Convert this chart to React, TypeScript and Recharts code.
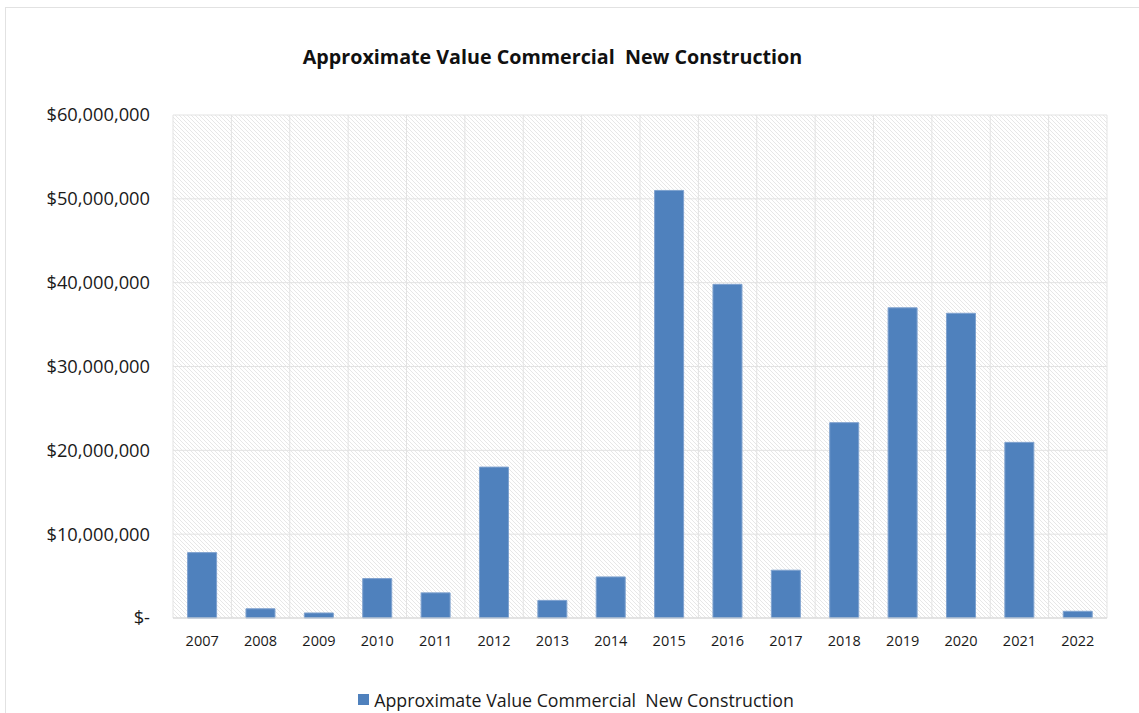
import React from 'react';
import { BarChart, Bar, XAxis, YAxis, CartesianGrid, Legend } from 'recharts';

const years = ['2007', '2008', '2009', '2010', '2011', '2012', '2013', '2014', '2015', '2016', '2017', '2018', '2019', '2020', '2021', '2022'];
const values = [7.8e6, 1.1e6, 0.6e6, 4.7e6, 3.0e6, 18.0e6, 2.1e6, 4.9e6, 51.0e6, 39.8e6, 5.7e6, 23.3e6, 37.0e6, 36.35e6, 20.95e6, 0.8e6];
const yTicks = [0, 10e6, 20e6, 30e6, 40e6, 50e6, 60e6];
const seriesName = 'Approximate Value Commercial  New Construction';
const titleText = 'Approximate Value Commercial  New Construction';

const data = years.map((y, i) => ({ year: y, value: values[i] }));

const FONT = '"Open Sans", "Noto Sans", sans-serif';
const BLUE = '#4F81BD';

const fmt = (v: number) => (v === 0 ? '$-' : '$' + v.toLocaleString('en-US'));

const LegendContent = () => (
  <div style={{ height: 65, paddingTop: 40, boxSizing: 'border-box', textAlign: 'center', fontFamily: FONT, fontSize: 17.8, color: '#1a1a1a', lineHeight: '20px', whiteSpace: 'pre', paddingLeft: 45 }}>
    <span style={{ display: 'inline-block', width: 11, height: 11, background: BLUE, marginRight: 5, verticalAlign: 'middle', position: 'relative', top: -1 }} />
    <span style={{ verticalAlign: 'middle' }}>{seriesName}</span>
  </div>
);

export default function App() {
  return (
    <div style={{ position: 'absolute', left: 0, top: 0, width: 1139, height: 713, overflow: 'hidden', background: '#fff', fontFamily: FONT }}>
      <svg width={0} height={0} style={{ position: 'absolute' }}>
        <defs>
          <pattern id="hatch" width="4" height="4" patternUnits="userSpaceOnUse">
            <rect width="4" height="4" fill="#ffffff" />
            <path d="M0,0 L4,4 M-1,3 L1,5 M3,-1 L5,1" stroke="#e7e7e7" strokeWidth="1" />
          </pattern>
        </defs>
      </svg>
      <div style={{ position: 'absolute', left: 5, top: 7, width: 1160, height: 740, border: '1px solid #e2e2e2' }} />
      <div style={{ position: 'absolute', left: 0, top: 43, width: 1105, textAlign: 'center', fontWeight: 700, fontSize: 19.7, color: '#111', whiteSpace: 'pre', lineHeight: '28px' }}>
        {titleText}
      </div>
      <div style={{ position: 'absolute', left: 0, top: 0 }}>
        <BarChart width={1139} height={713} data={data} margin={{ top: 115, right: 32, left: 0, bottom: 0 }} barCategoryGap="25%">
          <CartesianGrid
            stroke="#e3e3e3"
            strokeWidth={1}
            fill="url(#hatch)"
            fillOpacity={1}
            verticalCoordinatesGenerator={({ offset }: any) =>
              Array.from({ length: years.length + 1 }, (_, i) => offset.left + (i * offset.width) / years.length)
            }
          />
          <XAxis
            dataKey="year"
            height={30}
            tickLine={false}
            axisLine={{ stroke: '#d6d6d6' }}
            tickMargin={12}
            tick={{ fontFamily: FONT, fontSize: 14.5, fill: '#1a1a1a' }}
            interval={0}
          />
          <YAxis
            width={173}
            domain={[0, 60e6]}
            ticks={yTicks}
            tickFormatter={fmt}
            tickLine={false}
            axisLine={false}
            tickMargin={17}
            tick={{ fontFamily: FONT, fontSize: 18.3, fill: '#1a1a1a' }}
          />
          <Bar dataKey="value" name={seriesName} fill={BLUE} stroke="#7fa2cf" strokeWidth={1} isAnimationActive={false} />
          <Legend verticalAlign="bottom" align="center" height={65} content={<LegendContent />} />
        </BarChart>
      </div>
    </div>
  );
}
